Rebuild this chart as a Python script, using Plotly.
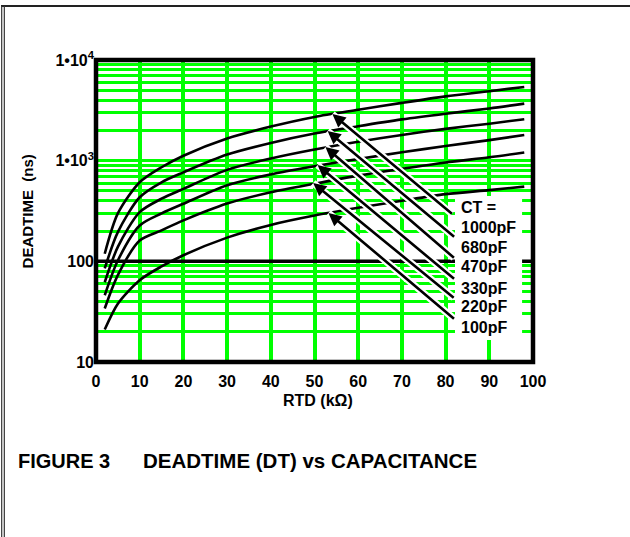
import numpy as np
import plotly.graph_objects as go

# RTD in kOhm, deadtime in ns
rtd = [2, 5, 10, 15, 20, 30, 40, 50, 60, 70, 80, 90, 98]
dt_1000 = [119, 299, 610, 860, 1120, 1660, 2180, 2720, 3200, 3750, 4350, 4900, 5400]
dt_680 = [85, 195, 433, 610, 766, 1150, 1500, 1860, 2200, 2570, 2930, 3300, 3690]
dt_470 = [62, 139, 308, 419, 525, 810, 1050, 1290, 1540, 1800, 2070, 2330, 2580]
dt_330 = [46, 102, 227, 299, 373, 570, 730, 880, 1040, 1210, 1400, 1600, 1800]
dt_220 = [34, 73, 161, 203, 255, 375, 485, 590, 710, 830, 960, 1080, 1205]
dt_100 = [21, 38, 65, 89, 115, 172, 230, 285, 340, 400, 465, 510, 552]

cap_labels = ["1000pF", "680pF", "470pF", "330pF", "220pF", "100pF"]
# where each arrow points (RTD, deadtime)
arrow_rtd = [54.1, 53.0, 52.5, 50.7, 49.7, 53.2]
arrow_dt = [2900, 1970, 1365, 904, 600, 302]

x_ticks = list(range(0, 101, 10))
y_grid = [m * 10 ** e for e in (1, 2, 3) for m in range(1, 10)] + [10000]
y_text = {10: "10", 100: "100", 1000: "1\u202210<sup>3</sup>", 10000: "1\u202210<sup>4</sup>"}

BOLD = dict(family="Liberation Sans, Arial, sans-serif", color="black", weight="bold")
GREEN = "#00ff00"

fig = go.Figure()

for dt in [dt_1000, dt_680, dt_470, dt_330, dt_220, dt_100]:
    fig.add_trace(go.Scatter(
        x=rtd, y=dt, mode="lines",
        line=dict(color="black", width=2.6, shape="spline", smoothing=0.8),
        showlegend=False, hoverinfo="skip"
    ))

# heavy line at 100 ns (1/3 up the 10..10^4 axis), then white box behind the CT labels
fig.add_shape(type="line", xref="paper", yref="paper", x0=0, x1=1, y0=1 / 3, y1=1 / 3,
              line=dict(color="black", width=3.5), layer="above")
fig.add_shape(type="rect", xref="paper", yref="paper", x0=0.8215, x1=0.975, y0=0.073, y1=0.55,
              line=dict(width=0), fillcolor="white", layer="above")

# arrows: white halo first, then the black arrow
tails = [(121, 101), (128, 107), (130, 112), (138, 115), (142, 116), (127, 107)]
for xa, ya, (ax, ay) in zip(arrow_rtd, arrow_dt, tails):
    fig.add_annotation(x=xa, y=np.log10(ya), ax=ax, ay=ay, text="", showarrow=True,
                       arrowhead=0, arrowwidth=7, arrowcolor="white", standoff=0)
for xa, ya, (ax, ay) in zip(arrow_rtd, arrow_dt, tails):
    fig.add_annotation(x=xa, y=np.log10(ya), ax=ax, ay=ay, text="", showarrow=True,
                       arrowhead=2, arrowsize=1.0, arrowwidth=2.6, arrowcolor="black",
                       standoff=0)

# CT labels
label_y = [2.341, 2.142, 1.953, 1.735, 1.556, 1.338]
fig.add_annotation(x=83.0, y=2.539, text="CT =", showarrow=False, xanchor="left",
                   font=dict(size=16, **BOLD))
for lab, ly in zip(cap_labels, label_y):
    fig.add_annotation(x=83.0, y=ly, text=lab, showarrow=False, xanchor="left",
                       font=dict(size=16, **BOLD))

# axis titles and caption
fig.add_annotation(xref="paper", yref="paper", x=-0.157, y=0.5, text="DEADTIME&nbsp;&nbsp;(ns)",
                   textangle=-90, xanchor="center", yanchor="middle", showarrow=False,
                   font=dict(size=15, **BOLD))
fig.add_annotation(xref="paper", yref="paper", x=0.508, y=-0.162, text="RTD (k\u03a9)",
                   xanchor="center", showarrow=False, font=dict(size=16, **BOLD))
fig.add_annotation(xref="paper", yref="paper", x=-0.183, y=-0.371, text="FIGURE 3",
                   xanchor="left", showarrow=False, font=dict(size=20, **BOLD))
fig.add_annotation(xref="paper", yref="paper", x=0.103, y=-0.371,
                   text="DEADTIME (DT) vs CAPACITANCE",
                   xanchor="left", showarrow=False, font=dict(size=20.5, **BOLD))

# plot border and page frame
fig.add_shape(type="rect", xref="paper", yref="paper", x0=0, x1=1, y0=0, y1=1,
              line=dict(color="black", width=4.5), layer="above")
fig.add_shape(type="line", xref="paper", yref="paper", x0=-0.2174, x1=1.23, y0=1.1788, y1=1.1788,
              line=dict(color="#222222", width=2))
for xp in [-0.2158, -0.2098]:
    fig.add_shape(type="line", xref="paper", yref="paper", x0=xp, x1=xp, y0=1.1788, y1=-0.6,
                  line=dict(color="#333333", width=1.2))

fig.update_layout(
    width=630, height=537,
    margin=dict(l=96, r=97, t=60, b=175),
    plot_bgcolor="white", paper_bgcolor="white",
    xaxis=dict(
        range=[0, 100], tickvals=x_ticks, ticks="", showline=False, zeroline=False,
        showgrid=True, gridcolor=GREEN, gridwidth=4,
        tickfont=dict(size=16, **BOLD), ticklabelstandoff=8
    ),
    yaxis=dict(
        type="log", range=[1, 4], tickvals=y_grid,
        ticktext=[y_text.get(v, "") for v in y_grid],
        ticks="", showline=False, zeroline=False,
        showgrid=True, gridcolor=GREEN, gridwidth=3,
        tickfont=dict(size=16, **BOLD), ticklabelstandoff=1
    ),
)

# the page body has an 8px default margin; drop it so the figure sits at 0,0
fig.write_html("out.html", config={"displayModeBar": False},
               post_script="document.body.style.margin = '0';")
